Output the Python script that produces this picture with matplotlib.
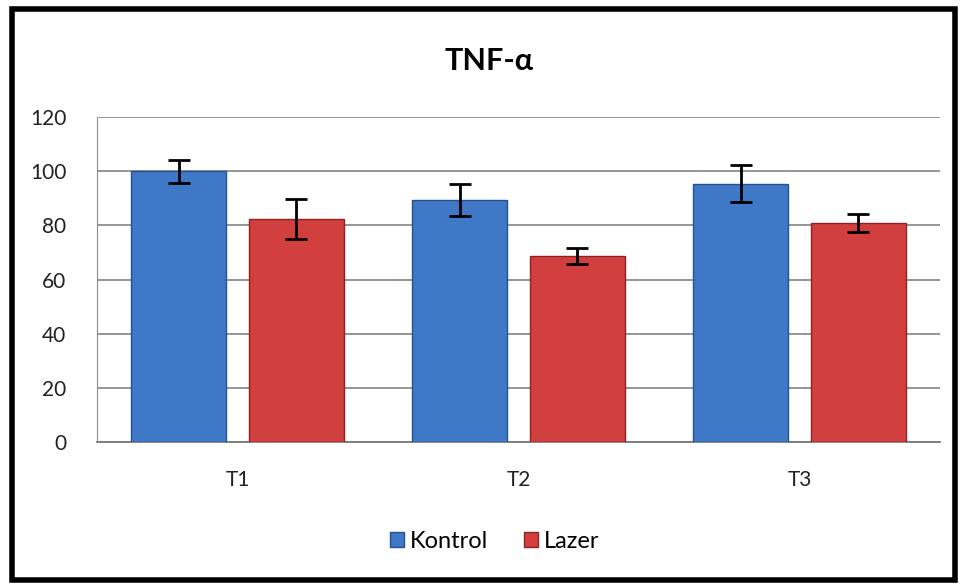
import matplotlib.pyplot as plt
import numpy as np
from matplotlib.patches import Rectangle

categories = ['T1', 'T2', 'T3']
kontrol = [100.0, 89.4, 95.3]
kontrol_err = [4.3, 6.0, 6.8]
lazer = [82.3, 68.7, 80.9]
lazer_err = [7.5, 2.8, 3.2]

plt.rcParams['font.family'] = ['Lato', 'DejaVu Sans']

fig = plt.figure(figsize=(9.63, 5.84), dpi=100)
# outer black frame
fig.patches.append(Rectangle((0.012, 0.007), 0.98, 0.978, transform=fig.transFigure,
                             fill=False, edgecolor='black', linewidth=4))

ax = fig.add_axes([97 / 963, 1 - 442 / 584, 843 / 963, 325 / 584])
x = np.arange(len(categories))
w = 0.337
off = 0.209

ax.bar(x - off, kontrol, w, color='#3E78C6', edgecolor='#24528F', linewidth=1.0,
       label='Kontrol', zorder=3)
ax.bar(x + off, lazer, w, color='#D23F3F', edgecolor='#8E2222', linewidth=1.0,
       label='Lazer', zorder=3)
ax.errorbar(x - off, kontrol, yerr=kontrol_err, fmt='none', ecolor='black',
            elinewidth=2, capsize=8, capthick=2, zorder=4)
ax.errorbar(x + off, lazer, yerr=lazer_err, fmt='none', ecolor='black',
            elinewidth=2, capsize=8, capthick=2, zorder=4)

ax.set_xlim(-0.5, 2.5)
ax.set_ylim(0, 120)
ax.set_yticks(range(0, 121, 20))
ax.set_xticks(x)
ax.set_xticklabels(categories)
ax.tick_params(axis='both', length=0, labelsize=15, colors='#222222')
ax.tick_params(axis='x', pad=20)
ax.tick_params(axis='y', pad=22)
ax.grid(axis='y', color='#8C8C8C', linewidth=1.3, zorder=0)
ax.set_axisbelow(True)
for s in ['top', 'right']:
    ax.spines[s].set_visible(False)
ax.spines['left'].set_color('#8C8C8C')
ax.spines['bottom'].set_color('#7A7A7A')
ax.spines['bottom'].set_linewidth(1.3)

fig.text(0.508, 0.895, 'TNF-α', ha='center', va='center', fontsize=22, fontweight='bold')

ax.legend(loc='center', bbox_to_anchor=(0.472, -0.305), ncol=2, frameon=False,
          fontsize=17, handlelength=0.6, handleheight=0.6, columnspacing=1.5,
          handletextpad=0.25)

fig.savefig('out.png', dpi=100)
